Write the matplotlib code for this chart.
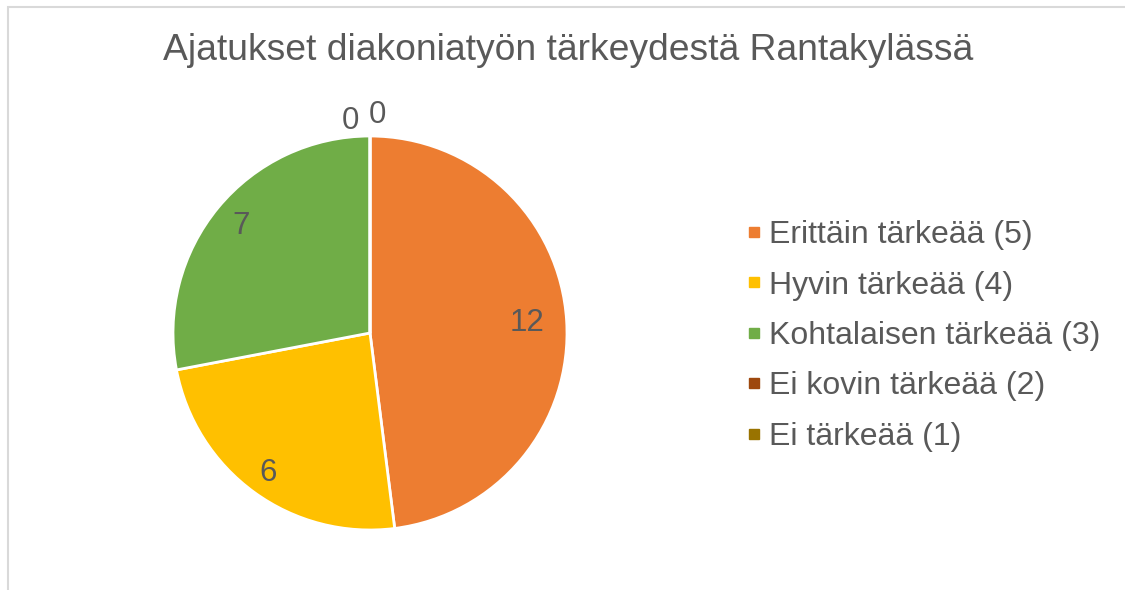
import matplotlib
matplotlib.use("Agg")
import matplotlib.pyplot as plt
import numpy as np
from matplotlib.patches import Rectangle
from matplotlib.lines import Line2D

plt.rcParams['font.family'] = ['Liberation Sans', 'DejaVu Sans']

title = "Ajatukset diakoniatyön tärkeydestä Rantakylässä"
categories = ["Erittäin tärkeää (5)", "Hyvin tärkeää (4)", "Kohtalaisen tärkeää (3)",
              "Ei kovin tärkeää (2)", "Ei tärkeää (1)"]
values = [12, 6, 7, 0, 0]
colors = ["#ED7D31", "#FFC000", "#70AD47", "#9E480E", "#997300"]
label_dist = [0.80, 0.88, 0.85]
zero_offsets = [(-20, 15), (7, 21)]

TXT = "#595959"
fig = plt.figure(figsize=(11.25, 5.9), dpi=100)
fig.patches.append(Rectangle((8/1125, -0.01), 1.2, 1 - 7/590 + 0.01, transform=fig.transFigure,
                             fill=False, edgecolor="#D9D9D9", linewidth=1.5))
fig.text(568/1125, 1 - 51/590, title, ha="center", va="center", fontsize=26.8, color=TXT)

r_px = 197
cx, cy = 370, 333
ax = fig.add_axes([(cx - r_px)/1125, 1 - (cy + r_px)/590, 2*r_px/1125, 2*r_px/590])
wedges, _ = ax.pie(values, colors=colors, startangle=90, counterclock=False,
                   wedgeprops=dict(edgecolor="white", linewidth=2))
ax.set_xlim(-1, 1); ax.set_ylim(-1, 1)
ax.set_aspect("auto")
ax.axis("off")

zi = 0
for i, (w, v) in enumerate(zip(wedges, values)):
    ang = np.deg2rad((w.theta1 + w.theta2) / 2)
    if v > 0:
        d = label_dist[i]
        ax.text(d*np.cos(ang), d*np.sin(ang), str(v), ha="center", va="center",
                fontsize=22.5, color=TXT)
    else:
        ax.annotate(str(v), (np.cos(ang), np.sin(ang)), xytext=zero_offsets[zi],
                    textcoords="offset pixels", ha="center", va="center",
                    fontsize=22.5, color=TXT, annotation_clip=False)
        zi += 1

handles = [Line2D([], [], linestyle="none", marker="s", markersize=7.3,
                  markerfacecolor=c, markeredgecolor=c) for c in colors]
fig.legend(handles, categories, loc="center left", bbox_to_anchor=(749/1125, 1 - 336/590),
           frameon=False, fontsize=23, handlelength=0.32,
           handletextpad=0.32, labelspacing=0.64, labelcolor=TXT, borderaxespad=0, borderpad=0)

fig.savefig("out.png", dpi=100)
